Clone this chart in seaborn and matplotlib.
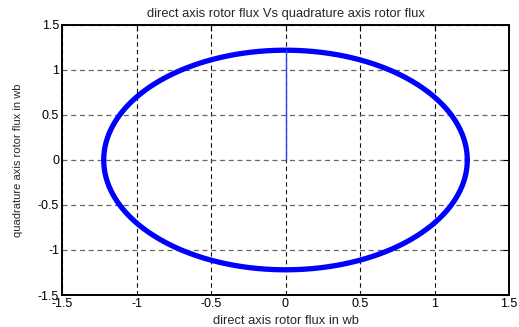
import numpy as np
import pandas as pd
import matplotlib
matplotlib.use("Agg")
import matplotlib.pyplot as plt
import seaborn as sns

# Steady-state rotor flux magnitude (Wb) and the start-up build-up along the q axis
flux_magnitude = 1.22
startup_d = [0.0, 0.0]
startup_q = [0.0, 1.22]
ticks = [-1.5, -1, -0.5, 0, 0.5, 1, 1.5]
tick_labels = ["-1.5", "-1", "-0.5", "0", "0.5", "1", "1.5"]

# Rotating flux vector traced over one electrical revolution
theta = np.linspace(0, 2 * np.pi, 721)
orbit = pd.DataFrame({"psi_d": flux_magnitude * np.cos(theta),
                      "psi_q": flux_magnitude * np.sin(theta)})
startup = pd.DataFrame({"psi_d": startup_d, "psi_q": startup_q})

sns.set_theme(style="white")
plt.rcParams["font.family"] = ["Liberation Sans", "DejaVu Sans"]

fig = plt.figure(figsize=(5.19, 3.27), dpi=100)
ax = fig.add_axes([62 / 519, 1 - 295 / 327, 447 / 519, 270 / 327])

ax.xaxis.grid(True, color="#111111", linestyle=(0, (4, 3)), linewidth=0.8)
ax.yaxis.grid(True, color="#666666", linestyle=(0, (4, 3)), linewidth=0.9)
ax.set_axisbelow(True)

sns.lineplot(data=orbit, x="psi_d", y="psi_q", sort=False, estimator=None,
             color="#0000ff", linewidth=3.8, ax=ax)
sns.lineplot(data=startup, x="psi_d", y="psi_q", sort=False, estimator=None,
             color="#3040ff", linewidth=1.0, ax=ax)

ax.set_xlim(-1.5, 1.5)
ax.set_ylim(-1.5, 1.5)
ax.set_xticks(ticks)
ax.set_yticks(ticks)
ax.set_xticklabels(tick_labels)
ax.set_yticklabels(tick_labels)
ax.tick_params(direction="in", length=4, width=0.8, colors="black",
               labelsize=9, top=True, right=True, pad=2)
ax.tick_params(axis="x", pad=2.5)
for s in ax.spines.values():
    s.set_color("black")
    s.set_linewidth(1.4)

ax.set_title("direct axis rotor flux Vs quadrature axis rotor flux",
             fontsize=9.3, pad=6)
ax.set_xlabel("direct axis rotor flux in wb", fontsize=9.3, labelpad=3)
ax.set_ylabel("quadrature axis rotor flux in wb", fontsize=8, labelpad=11)

fig.savefig("out.png", dpi=100, facecolor="white")
